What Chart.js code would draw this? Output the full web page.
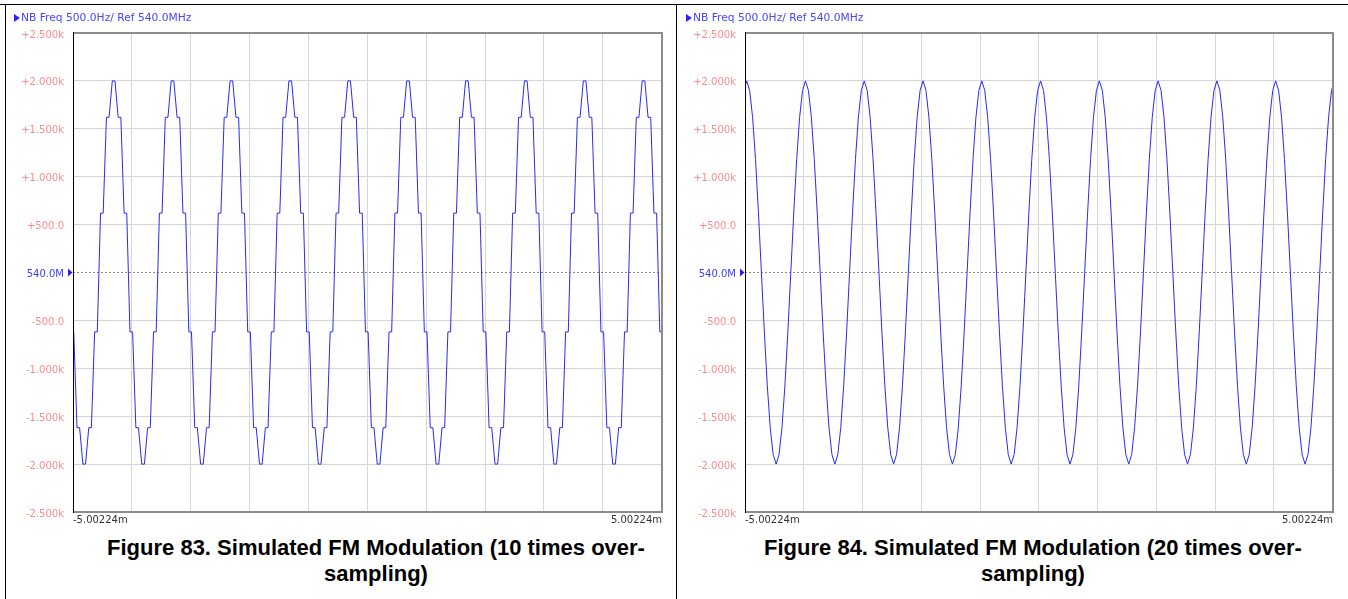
<!DOCTYPE html>
<html>
<head>
<meta charset="utf-8">
<title>Simulated FM Modulation</title>
<script src="https://cdn.jsdelivr.net/npm/chart.js@4.4.0/dist/chart.umd.min.js"></script>
<style>
  body { margin: 0; background: #fff; width: 1348px; height: 599px; overflow: hidden; position: relative; font-family: "DejaVu Sans", sans-serif; }
  canvas { position: absolute; top: 0; }
  .rule { position: absolute; background: #000; z-index: 2; }
  .header { position: absolute; top: 12px; font-size: 10.7px; line-height: 12px; color: #4646ff; white-space: nowrap; }
  .header .tri { position: absolute; left: -7px; top: 1.5px; width: 0; height: 0; border-left: 6px solid #2424ff; border-top: 4.5px solid transparent; border-bottom: 4.5px solid transparent; }
  .caption { position: absolute; top: 535px; width: 640px; text-align: center; font: bold 22px/26px "Liberation Sans", Arial, sans-serif; color: #000; }
</style>
</head>
<body>
<canvas id="fm10" width="676" height="530" style="left:0"></canvas>
<canvas id="fm20" width="672" height="530" style="left:676px"></canvas>

<div class="rule" style="left:0; top:4px; width:1348px; height:1px"></div>
<div class="rule" style="left:5px; top:4px; width:1px; height:595px"></div>
<div class="rule" style="left:676px; top:4px; width:1px; height:595px"></div>

<div class="header" style="left:21px"><span class="tri"></span>NB Freq 500.0Hz/ Ref 540.0MHz</div>
<div class="header" style="left:693px"><span class="tri"></span>NB Freq 500.0Hz/ Ref 540.0MHz</div>

<div class="caption" style="left:56px">Figure 83. Simulated FM Modulation (10 times over-<br>sampling)</div>
<div class="caption" style="left:713px">Figure 84. Simulated FM Modulation (20 times over-<br>sampling)</div>

<script>
// time axis (ms) and frequency offset axis (Hz)
const X_MIN = -5.00224;
const X_MAX = 5.00224;
const xGrid = [-5.00224, -4.00224, -3.00224, -2.00224, -1.00224, -0.00224, 0.99776, 1.99776, 2.99776, 3.99776, 5.00224];
const xEndLabels = ["-5.00224m", "5.00224m"];
const yTicks = [2500, 2000, 1500, 1000, 500, 0, -500, -1000, -1500, -2000, -2500];
const yTickLabels = ["+2.500k", "+2.000k", "+1.500k", "+1.000k", "+500.0", "540.0M", "-500.0", "-1.000k", "-1.500k", "-2.000k", "-2.500k"];

// 10x oversampling: one level every 0.1 ms, each held for a short while
const os10Start = -5.012;
const os10Step = 0.1;
const os10Hold = 0.045;
const os10Samples = [
  -620, -1620, -2000, -1620, -620, 620, 1620, 2000, 1620, 620,
  -620, -1620, -2000, -1620, -620, 620, 1620, 2000, 1620, 620,
  -620, -1620, -2000, -1620, -620, 620, 1620, 2000, 1620, 620,
  -620, -1620, -2000, -1620, -620, 620, 1620, 2000, 1620, 620,
  -620, -1620, -2000, -1620, -620, 620, 1620, 2000, 1620, 620,
  -620, -1620, -2000, -1620, -620, 620, 1620, 2000, 1620, 620,
  -620, -1620, -2000, -1620, -620, 620, 1620, 2000, 1620, 620,
  -620, -1620, -2000, -1620, -620, 620, 1620, 2000, 1620, 620,
  -620, -1620, -2000, -1620, -620, 620, 1620, 2000, 1620, 620,
  -620, -1620, -2000, -1620, -620, 620, 1620, 2000, 1620, 620,
  -620
];

// 20x oversampling: one sample every 0.05 ms
const os20Start = -5.023;
const os20Step = 0.05;
const os20Samples = [
  1900, 2000, 1900, 1620, 1180, 620, 0, -620, -1180, -1620, -1900, -2000, -1900, -1620, -1180, -620, 0, 620, 1180, 1620,
  1900, 2000, 1900, 1620, 1180, 620, 0, -620, -1180, -1620, -1900, -2000, -1900, -1620, -1180, -620, 0, 620, 1180, 1620,
  1900, 2000, 1900, 1620, 1180, 620, 0, -620, -1180, -1620, -1900, -2000, -1900, -1620, -1180, -620, 0, 620, 1180, 1620,
  1900, 2000, 1900, 1620, 1180, 620, 0, -620, -1180, -1620, -1900, -2000, -1900, -1620, -1180, -620, 0, 620, 1180, 1620,
  1900, 2000, 1900, 1620, 1180, 620, 0, -620, -1180, -1620, -1900, -2000, -1900, -1620, -1180, -620, 0, 620, 1180, 1620,
  1900, 2000, 1900, 1620, 1180, 620, 0, -620, -1180, -1620, -1900, -2000, -1900, -1620, -1180, -620, 0, 620, 1180, 1620,
  1900, 2000, 1900, 1620, 1180, 620, 0, -620, -1180, -1620, -1900, -2000, -1900, -1620, -1180, -620, 0, 620, 1180, 1620,
  1900, 2000, 1900, 1620, 1180, 620, 0, -620, -1180, -1620, -1900, -2000, -1900, -1620, -1180, -620, 0, 620, 1180, 1620,
  1900, 2000, 1900, 1620, 1180, 620, 0, -620, -1180, -1620, -1900, -2000, -1900, -1620, -1180, -620, 0, 620, 1180, 1620,
  1900, 2000, 1900, 1620, 1180, 620, 0, -620, -1180, -1620, -1900, -2000, -1900, -1620, -1180, -620, 0, 620, 1180, 1620,
  1900, 2000
];

const TRACE = "rgb(40,40,255)";
const GRID = "#d6d6d6";
const TICK_PINK = "#ff8a8a";
const REF_BLUE = "#3c3cff";

Chart.defaults.font.family = "'DejaVu Sans', sans-serif";
Chart.defaults.font.size = 10;

function heldPoints(start, step, hold, levels) {
  const pts = [];
  levels.forEach((v, k) => {
    const t = start + k * step;
    pts.push({ x: t - hold / 2, y: v });
    pts.push({ x: t + hold / 2, y: v });
  });
  return pts;
}

function samplePoints(start, step, values) {
  return values.map((v, k) => ({ x: start + k * step, y: v }));
}

// plot frame, reference marker and end-of-span labels
const scopeFrame = {
  id: "scopeFrame",
  afterDraw(chart) {
    const { ctx, chartArea: a } = chart;
    const y0 = chart.scales.y.getPixelForValue(0);
    ctx.save();
    ctx.strokeStyle = "#8c8c8c";
    ctx.lineWidth = 2;
    ctx.beginPath();
    ctx.moveTo(a.left, a.top);
    ctx.lineTo(a.right, a.top);
    ctx.lineTo(a.right, a.bottom);
    ctx.lineTo(a.left, a.bottom);
    ctx.stroke();
    ctx.strokeStyle = "#000";
    ctx.lineWidth = 1;
    ctx.beginPath();
    ctx.moveTo(a.left + 0.5, a.top - 1);
    ctx.lineTo(a.left + 0.5, a.bottom + 1);
    ctx.stroke();

    ctx.fillStyle = "#2020ff";
    ctx.beginPath();
    ctx.moveTo(a.left - 5, y0 - 4);
    ctx.lineTo(a.left - 0.5, y0);
    ctx.lineTo(a.left - 5, y0 + 4);
    ctx.closePath();
    ctx.fill();

    ctx.fillStyle = "#333";
    ctx.font = "10px 'DejaVu Sans', sans-serif";
    ctx.textBaseline = "alphabetic";
    ctx.textAlign = "left";
    ctx.fillText(xEndLabels[0], a.left, a.bottom + 11);
    ctx.textAlign = "right";
    ctx.fillText(xEndLabels[1], a.right, a.bottom + 11);
    ctx.restore();
  }
};

function scopeChart(id, wave, yWidth, rightPad) {
  new Chart(document.getElementById(id), {
    type: "line",
    data: {
      datasets: [
        {
          data: wave,
          borderColor: TRACE,
          borderWidth: 1,
          pointRadius: 0,
          tension: 0,
          order: 1
        },
        {
          data: [{ x: X_MIN, y: 0 }, { x: X_MAX, y: 0 }],
          borderColor: "#8a8a8a",
          borderWidth: 1,
          borderDash: [2, 2],
          pointRadius: 0,
          order: 2
        }
      ]
    },
    options: {
      responsive: false,
      animation: false,
      events: [],
      layout: { padding: { top: 33, right: rightPad, bottom: 18, left: 0 } },
      plugins: { legend: { display: false }, tooltip: { enabled: false } },
      scales: {
        x: {
          type: "linear",
          min: X_MIN,
          max: X_MAX,
          afterBuildTicks: s => { s.ticks = xGrid.map(v => ({ value: v })); },
          afterFit: s => { s.height = 0; },
          ticks: { display: false },
          border: { display: false },
          grid: { color: GRID, drawTicks: false }
        },
        y: {
          min: -2500,
          max: 2500,
          afterBuildTicks: s => { s.ticks = yTicks.map(v => ({ value: v })); },
          afterFit: s => { s.width = yWidth; },
          ticks: {
            padding: 9,
            labelOffset: 2,
            autoSkip: false,
            callback: (v, i) => yTickLabels[i],
            color: c => (c.tick && c.tick.value === 0 ? REF_BLUE : TICK_PINK)
          },
          border: { display: false },
          grid: {
            drawTicks: false,
            color: c => (c.tick && c.tick.value === 0 ? "transparent" : GRID)
          }
        }
      }
    },
    plugins: [scopeFrame]
  });
}

scopeChart("fm10", heldPoints(os10Start, os10Step, os10Hold, os10Samples), 73, 14);
scopeChart("fm20", samplePoints(os20Start, os20Step, os20Samples), 69, 15);
</script>
</body>
</html>
